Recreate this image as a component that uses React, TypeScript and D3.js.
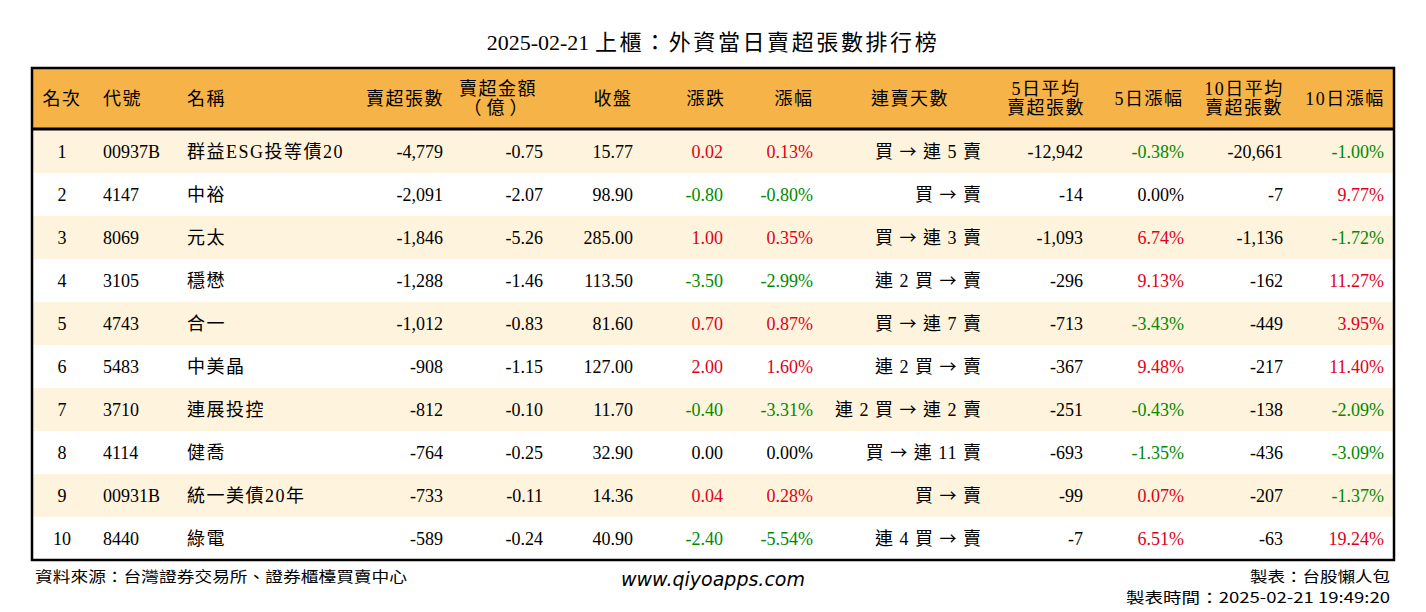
import React from "react";
import * as d3 from "d3";

const titleDate = "2025-02-21 ";
const titleText = "上櫃：外資當日賣超張數排行榜";
const headers = ["名次", "代號", "名稱", "賣超張數", "賣超金額\n（億）", "收盤", "漲跌", "漲幅", "連賣天數", "5日平均\n賣超張數", "5日漲幅", "10日平均\n賣超張數", "10日漲幅"];
const ranks = [1, 2, 3, 4, 5, 6, 7, 8, 9, 10];
const codes = ["00937B", "4147", "8069", "3105", "4743", "5483", "3710", "4114", "00931B", "8440"];
const names = ["群益ESG投等債20", "中裕", "元太", "穩懋", "合一", "中美晶", "連展投控", "健喬", "統一美債20年", "綠電"];
const netSell = [-4779, -2091, -1846, -1288, -1012, -908, -812, -764, -733, -589];
const amount = [-0.75, -2.07, -5.26, -1.46, -0.83, -1.15, -0.10, -0.25, -0.11, -0.24];
const closePx = [15.77, 98.90, 285.00, 113.50, 81.60, 127.00, 11.70, 32.90, 14.36, 40.90];
const change = [0.02, -0.80, 1.00, -3.50, 0.70, 2.00, -0.40, 0.00, 0.04, -2.40];
const pct = [0.13, -0.80, 0.35, -2.99, 0.87, 1.60, -3.31, 0.00, 0.28, -5.54];
const streak = ["買 → 連 5 賣", "買 → 賣", "買 → 連 3 賣", "連 2 買 → 賣", "買 → 連 7 賣", "連 2 買 → 賣", "連 2 買 → 連 2 賣", "買 → 連 11 賣", "買 → 賣", "連 4 買 → 賣"];
const avg5 = [-12942, -14, -1093, -296, -713, -367, -251, -693, -99, -7];
const pct5 = [-0.38, 0.00, 6.74, 9.13, -3.43, 9.48, -0.43, -1.35, 0.07, 6.51];
const avg10 = [-20661, -7, -1136, -162, -449, -217, -138, -436, -207, -63];
const pct10 = [-1.00, 9.77, -1.72, 11.27, 3.95, 11.40, -2.09, -3.09, -1.37, 19.24];
const footLeft = "資料來源：台灣證券交易所、證券櫃檯買賣中心";
const footMid = "www.qiyoapps.com";
const footRight1 = "製表：台股懶人包";
const footRight2 = "製表時間：2025-02-21 19:49:20";

const RED = "#e0001b";
const GREEN = "#008a00";
const FONT = "'Liberation Serif', 'Noto Sans CJK TC', serif";
const CJK = "'Noto Sans CJK TC', sans-serif";
const colorOf = (v: number) => (v > 0 ? RED : v < 0 ? GREEN : "#000");
const fix = (s: string) => s.replace(/\u2212/g, "-");
const fmtInt = (v: number) => fix(d3.format(",")(v));
const fmt2 = (v: number) => fix(d3.format(".2f")(v));
const fmtPct = (v: number) => fmt2(v) + "%";
const hasCJK = (s: string) => /[\u3000-\u9fff\uff00-\uffef]/.test(s);

// column layout: header x/anchor, cell x/anchor
const cols = [
  { hx: 62, ha: "middle", cx: 62, ca: "middle" },
  { hx: 103, ha: "start", cx: 103, ca: "start" },
  { hx: 187, ha: "start", cx: 187, ca: "start" },
  { hx: 444, ha: "end", cx: 443, ca: "end" },
  { hx: 498, ha: "middle", cx: 543, ca: "end" },
  { hx: 613, ha: "middle", cx: 633, ca: "end" },
  { hx: 706, ha: "middle", cx: 723, ca: "end" },
  { hx: 794, ha: "middle", cx: 813, ca: "end" },
  { hx: 910, ha: "middle", cx: 982, ca: "end" },
  { hx: 1046, ha: "middle", cx: 1083, ca: "end" },
  { hx: 1149, ha: "middle", cx: 1184, ca: "end" },
  { hx: 1244, ha: "middle", cx: 1283, ca: "end" },
  { hx: 1345, ha: "middle", cx: 1384, ca: "end" },
];

function Streak({ x, y, s }: { x: number; y: number; s: string }) {
  const parts = s.split("→");
  return (
    <text x={x} y={y} textAnchor="end" fontSize={18} fill="#000" xmlSpace="preserve" letterSpacing={1}>
      {parts.map((p, k) => (
        <React.Fragment key={k}>
          {k > 0 && <tspan fontFamily={CJK} fontSize={17}>→</tspan>}
          <tspan>{p}</tspan>
        </React.Fragment>
      ))}
    </text>
  );
}

export default function App() {
  const W = 1426, H = 612;
  const left = 32, right = 1394, top = 68, headBottom = 129, bottom = 560;
  const y = d3.scaleBand<number>().domain(ranks).range([headBottom + 1, bottom]);

  const cellsFor = (i: number) => [
    { t: String(ranks[i]), c: "#000" },
    { t: codes[i], c: "#000" },
    { t: names[i], c: "#000" },
    { t: fmtInt(netSell[i]), c: "#000" },
    { t: fmt2(amount[i]), c: "#000" },
    { t: fmt2(closePx[i]), c: "#000" },
    { t: fmt2(change[i]), c: colorOf(change[i]) },
    { t: fmtPct(pct[i]), c: colorOf(pct[i]) },
    { t: streak[i], c: "#000" },
    { t: fmtInt(avg5[i]), c: "#000" },
    { t: fmtPct(pct5[i]), c: colorOf(pct5[i]) },
    { t: fmtInt(avg10[i]), c: "#000" },
    { t: fmtPct(pct10[i]), c: colorOf(pct10[i]) },
  ];

  return (
    <svg width={W} height={H} style={{ position: "absolute", left: 0, top: 0, background: "#fff" }} fontFamily={FONT}>
      <rect x={0} y={0} width={W} height={H} fill="#fff" />
      <text x={713} y={50} textAnchor="middle" fontSize={22} fill="#000" xmlSpace="preserve">
        <tspan>{titleDate}</tspan>
        <tspan letterSpacing={2.6}>{titleText}</tspan>
      </text>
      <rect x={left} y={top} width={right - left} height={headBottom - top} fill="#f6b347" />
      {ranks.map((r, i) => (
        <rect key={"bg" + r} x={left} y={y(r)!} width={right - left} height={y.bandwidth()} fill={i % 2 === 0 ? "#fef3dc" : "#ffffff"} />
      ))}
      {headers.map((h, j) => {
        const lines = h.split("\n");
        const cy = (top + headBottom) / 2;
        return (
          <text key={"h" + j} x={cols[j].hx} textAnchor={cols[j].ha as any} fontSize={18} fill="#000" letterSpacing={1.5}>
            {lines.map((ln, k) => (
              <tspan key={k} x={cols[j].hx} y={cy + 6 + (k - (lines.length - 1) / 2) * 19} letterSpacing={ln.startsWith("（") ? 5 : 1.5}>{ln}</tspan>
            ))}
          </text>
        );
      })}
      {ranks.map((r, i) => {
        const cy = y(r)! + y.bandwidth() / 2 + 6.5;
        return cellsFor(i).map((c, j) =>
          j === 8 ? (
            <Streak key={r + "-" + j} x={cols[j].cx} y={cy} s={c.t} />
          ) : (
            <text key={r + "-" + j} x={cols[j].cx} y={cy} textAnchor={cols[j].ca as any} fontSize={18} fill={c.c} xmlSpace="preserve" letterSpacing={hasCJK(c.t) ? 1.5 : 0}>{c.t}</text>
          )
        );
      })}
      <line x1={left} x2={right} y1={headBottom} y2={headBottom} stroke="#000" strokeWidth={3} />
      <rect x={left} y={top} width={right - left} height={bottom - top} fill="none" stroke="#000" strokeWidth={2.5} />
      <text x={35} y={582} fontSize={15} fontFamily={CJK} fill="#000" textLength={372} lengthAdjust="spacingAndGlyphs">{footLeft}</text>
      <text x={713} y={586} textAnchor="middle" fontSize={19} fontStyle="italic" fontFamily="'DejaVu Sans', sans-serif" fill="#000">{footMid}</text>
      <text x={1390} y={582} textAnchor="end" fontSize={15} fontFamily={CJK} fill="#000" textLength={140} lengthAdjust="spacingAndGlyphs">{footRight1}</text>
      <text x={1390} y={603} textAnchor="end" fontSize={15} fontFamily={CJK} fill="#000" textLength={264} lengthAdjust="spacingAndGlyphs">{footRight2}</text>
    </svg>
  );
}
